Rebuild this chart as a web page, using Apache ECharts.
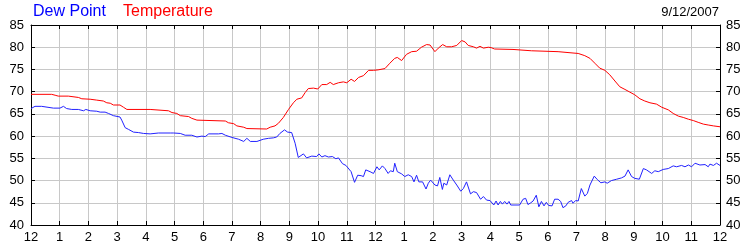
<!DOCTYPE html>
<html>
<head>
<meta charset="utf-8">
<script src="https://cdn.jsdelivr.net/npm/echarts@6/dist/echarts.min.js"></script>
<style>
html,body{margin:0;padding:0;background:#fff;}
#c{width:750px;height:250px;}
</style>
</head>
<body>
<div id="c"></div>
<script>
// Hours since midnight (0..24) for each reading
var tempHours = [0.00,0.72,0.84,0.95,1.30,1.36,1.65,1.77,2.06,2.12,2.29,2.35,2.52,2.64,2.76,2.87,3.10,3.22,3.34,
  4.15,4.21,4.79,4.91,5.08,5.20,5.49,5.60,5.78,5.84,6.77,6.88,7.06,7.17,7.41,7.52,
  8.21,8.33,8.50,8.62,8.79,8.97,9.14,9.26,9.43,9.55,9.66,9.84,9.99,10.13,10.30,10.42,10.53,10.71,10.88,11.00,11.15,11.27,11.41,11.58,11.76,11.93,
  12.09,12.33,12.50,12.67,12.76,12.91,13.08,13.26,13.43,13.60,13.78,13.90,14.07,14.19,14.34,14.48,14.65,14.83,15.00,15.12,15.23,15.41,15.52,15.64,15.76,15.93,
  16.03,16.15,16.79,16.85,17.43,17.49,18.36,18.42,18.88,19.06,19.29,19.47,19.64,19.81,19.99,
  20.05,20.16,20.34,20.51,20.69,20.86,21.03,21.21,21.38,21.56,21.79,21.97,22.20,22.37,22.55,22.72,22.90,23.07,23.24,23.42,23.59,23.77,24.00];
var tempValues = [69.4,69.4,69.2,69.0,69.0,68.8,68.7,68.4,68.3,68.1,68.1,67.9,67.9,67.5,67.4,67.0,67.0,66.5,66.0,
  66.0,65.7,65.7,65.3,65.1,64.6,64.4,64.0,63.6,63.4,63.4,63.0,62.8,62.3,62.0,61.7,
  61.6,62.0,62.3,62.9,64.2,66.0,67.5,68.3,68.6,69.8,70.7,70.8,70.6,71.6,71.6,72.1,71.6,72.0,72.2,72.0,72.8,72.3,73.2,73.6,74.8,74.8,
  74.9,75.2,76.4,77.5,77.7,77.0,78.4,79.0,79.1,80.0,80.6,80.5,79.0,79.8,80.6,80.1,80.1,80.4,81.5,81.2,80.4,80.1,79.8,80.2,79.8,80.0,
  79.9,79.6,79.5,79.3,79.2,79.1,79.0,78.9,78.7,78.6,78.1,77.5,76.4,75.3,74.8,
  74.5,73.8,72.4,71.1,70.5,69.9,69.3,68.4,67.9,67.5,67.2,66.5,65.9,65.1,64.5,64.2,63.8,63.5,63.1,62.7,62.5,62.3,62.1];

var dewHours = [0.00,0.14,0.37,0.43,0.78,0.84,1.01,1.13,1.24,1.42,1.65,1.83,1.91,2.06,2.29,2.41,2.58,2.70,2.87,3.10,3.16,3.28,3.40,3.57,3.74,3.92,
  4.15,4.44,4.85,4.91,4.97,5.20,5.37,5.60,5.78,5.95,6.07,6.19,6.53,6.65,6.77,7.00,7.23,7.41,7.52,7.64,7.87,
  8.09,8.27,8.44,8.56,8.67,8.83,8.94,9.08,9.20,9.31,9.49,9.60,9.78,9.95,10.03,10.13,10.24,10.36,10.50,10.62,10.71,10.85,10.97,11.03,11.15,11.27,11.38,11.50,11.58,11.66,11.81,11.93,
  12.05,12.13,12.24,12.33,12.44,12.52,12.62,12.67,12.76,12.91,13.02,13.14,13.26,13.34,13.43,13.51,13.64,13.76,13.84,13.92,14.07,14.16,14.24,14.33,14.38,14.48,14.59,14.71,14.83,14.97,15.06,15.17,15.31,15.41,15.52,15.66,15.76,15.87,15.99,
  16.12,16.20,16.27,16.35,16.42,16.50,16.58,16.65,16.71,17.02,17.14,17.23,17.31,17.41,17.49,17.60,17.69,17.78,17.87,17.95,18.03,18.15,18.24,18.36,18.45,18.53,18.63,18.71,18.83,18.88,18.97,19.06,19.17,19.29,19.38,19.47,19.62,19.73,19.85,19.99,
  20.07,20.22,20.40,20.57,20.69,20.80,20.92,21.03,21.19,21.33,21.44,21.62,21.73,21.85,22.02,22.20,22.37,22.49,22.66,22.78,22.90,23.01,23.13,23.30,23.48,23.59,23.65,23.77,23.88,24.00];
var dewValues = [66.2,66.7,66.7,66.3,66.3,66.5,66.3,66.7,66.2,66.0,66.0,65.7,66.0,65.7,65.6,65.4,65.4,65.1,64.6,64.3,63.6,61.9,61.5,60.9,60.8,60.6,
  60.5,60.7,60.7,60.9,60.7,60.6,60.2,60.2,59.8,60.0,59.9,60.5,60.5,60.6,60.2,59.7,59.3,58.8,59.5,58.8,58.8,
  59.3,59.5,59.6,59.8,60.6,61.4,60.9,60.8,58.4,55.2,56.0,55.1,55.5,55.4,56.0,55.3,55.6,55.3,55.4,54.9,55.1,53.8,53.4,53.7,52.0,49.6,51.2,51.1,50.9,52.4,52.0,51.6,
  53.1,52.4,53.3,52.7,51.6,52.2,52.0,53.9,52.0,51.5,50.9,51.3,50.9,49.7,51.2,49.7,49.7,48.1,49.4,50.1,49.0,48.8,50.7,48.0,49.4,49.0,51.3,50.1,49.0,47.6,48.2,49.7,47.0,47.5,47.3,45.8,46.4,45.6,45.5,
  44.5,45.4,44.5,45.3,44.7,45.3,44.7,45.3,44.5,44.5,45.8,46.0,44.6,45.0,45.4,46.7,44.1,45.3,44.3,45.1,44.4,44.3,45.8,45.8,45.3,43.9,44.3,45.1,45.5,44.9,45.5,45.4,48.2,46.5,47.1,49.0,51.0,50.2,49.5,49.7,
  49.4,50.0,50.3,50.6,51.0,52.4,50.9,50.5,50.3,52.7,52.4,51.6,52.2,52.0,52.5,52.7,53.3,53.1,53.4,53.1,53.5,53.1,53.9,53.5,53.6,53.1,53.7,53.4,53.9,53.4];

var seriesNames = ['Dew Point', 'Temperature'];
var dateLabel = '9/12/2007';
var yTicks = [40,45,50,55,60,65,70,75,80,85];

function pairs(xs, ys){ var out=[]; for (var i=0;i<xs.length;i++) out.push([xs[i], ys[i]]); return out; }
function hourLabel(v){ var h = Math.round(v) % 12; return String(h === 0 ? 12 : h); }

var FONT = 'Liberation Sans, Arial, sans-serif';
var chart = echarts.init(document.getElementById('c'), null, {renderer:'canvas'});
var axisCommonX = {
  type:'value', min:0, max:24, interval:1,
  axisLine:{show:true, onZero:false, lineStyle:{color:'#000', width:1}},
  axisTick:{show:true, inside:true, length:4, lineStyle:{color:'#000'}},
  splitLine:{show:true, lineStyle:{color:'#c8c8c8', width:1}}
};
var axisCommonY = {
  type:'value', min:yTicks[0], max:yTicks[yTicks.length-1], interval:5,
  axisLine:{show:true, onZero:false, lineStyle:{color:'#000', width:1}},
  axisTick:{show:true, inside:true, length:4, lineStyle:{color:'#000'}},
  splitLine:{show:true, lineStyle:{color:'#c8c8c8', width:1}}
};
chart.setOption({
  animation:false,
  backgroundColor:'#fff',
  grid:{left:31, right:30, top:25, bottom:25, containLabel:false},
  xAxis:[
    Object.assign({}, axisCommonX, {position:'bottom',
      axisLabel:{show:true, color:'#000', fontSize:13, fontFamily:FONT, margin:6, formatter:hourLabel}}),
    Object.assign({}, axisCommonX, {position:'top', axisLabel:{show:false}, splitLine:{show:false}})
  ],
  yAxis:[
    Object.assign({}, axisCommonY, {position:'left',
      axisLabel:{show:true, color:'#000', fontSize:13, fontFamily:FONT, margin:7}}),
    Object.assign({}, axisCommonY, {position:'right', splitLine:{show:false},
      axisLabel:{show:true, color:'#000', fontSize:13, fontFamily:FONT, margin:6}})
  ],
  graphic:[
    {type:'text', left:33, top:4, style:{text:seriesNames[0], fill:'#0000ff', font:'16px ' + FONT}},
    {type:'text', left:123, top:4, style:{text:seriesNames[1], fill:'#ff0000', font:'16px ' + FONT}},
    {type:'text', right:31, top:6, style:{text:dateLabel, fill:'#000', font:'13px ' + FONT}}
  ],
  series:[
    {name:seriesNames[0], type:'line', xAxisIndex:0, yAxisIndex:0, data:pairs(dewHours, dewValues),
      showSymbol:false, symbol:'none', lineStyle:{color:'#2222ff', width:1}, z:3},
    {name:seriesNames[1], type:'line', xAxisIndex:0, yAxisIndex:0, data:pairs(tempHours, tempValues),
      showSymbol:false, symbol:'none', lineStyle:{color:'#ff0000', width:1}, z:3}
  ]
});
</script>
</body>
</html>
